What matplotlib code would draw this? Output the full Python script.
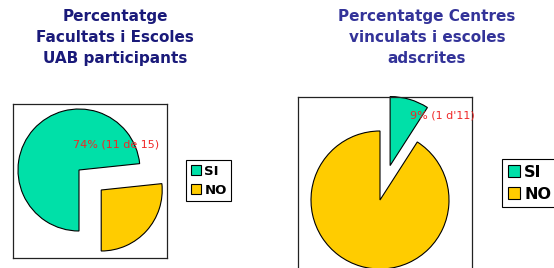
import matplotlib.pyplot as plt
from matplotlib.patches import Patch

plt.rcParams['font.family'] = ['DejaVu Sans']

# data
categories = ['SI', 'NO']
uab_counts = [11, 4]          # Facultats i Escoles UAB (11 de 15)
centres_counts = [1, 10]      # Centres vinculats (1 d'11)
uab_label = '74% (11 de 15)'
centres_label = "9% (1 d'11)"
colors = ['#00e0a8', '#ffcc00']

W, H = 554, 268
fig = plt.figure(figsize=(W / 100, H / 100), dpi=100)


def px_axes(x0, y0, x1, y1):
    # box given in pixel coords (top-left origin)
    return fig.add_axes([x0 / W, 1 - y1 / H, (x1 - x0) / W, (y1 - y0) / H])


def draw_pie(ax, vals, explode, start, cx, cy, r, box):
    x0, y0, x1, y1 = box
    ax.pie(vals, colors=colors, explode=explode, startangle=start,
           counterclock=False, frame=True,
           wedgeprops=dict(edgecolor='black', linewidth=0.8))
    ax.set_xlim((x0 - cx) / r, (x1 - cx) / r)
    ax.set_ylim((cy - y1) / r, (cy - y0) / r)
    ax.set_xticks([])
    ax.set_yticks([])
    for s in ax.spines.values():
        s.set_linewidth(0.9)
        s.set_color('#222222')


# left chart
box1 = (13, 104, 167, 258)
ax1 = px_axes(*box1)
draw_pie(ax1, uab_counts, [0, 0.49], 270, 79, 170, 61, box1)
ax1.text(0.61, 0.41, uab_label, color='#f02828', fontsize=8,
         ha='center', va='center')

# right chart
box2 = (298, 97, 472, 271)
ax2 = px_axes(*box2)
draw_pie(ax2, centres_counts, [0.52, 0], 90, 380, 200, 69, box2)
ax2.text(0.90, 1.23, centres_label, color='#f02828', fontsize=8,
         ha='center', va='center')

# titles
fig.text(115 / W, 1 - 9 / H, 'Percentatge\nFacultats i Escoles\nUAB participants',
         ha='center', va='top', fontsize=11, fontweight='bold',
         color='#1a1a7a', linespacing=1.52)
fig.text(427 / W, 1 - 9 / H, 'Percentatge Centres\nvinculats i escoles\nadscrites',
         ha='center', va='top', fontsize=11, fontweight='bold',
         color='#333399', linespacing=1.52)

# legends
handles = [Patch(facecolor=c, edgecolor='black', linewidth=0.8) for c in colors]
leg1 = fig.legend(handles, categories, loc='upper left',
                  bbox_to_anchor=(186 / W, 1 - 160 / H), borderaxespad=0,
                  fancybox=False, edgecolor='black', framealpha=1,
                  prop=dict(weight='bold', size=9.5), handlelength=0.75,
                  handleheight=0.75, handletextpad=0.3, labelspacing=0.45,
                  borderpad=0.35)
leg1.get_frame().set_linewidth(0.8)
leg2 = fig.legend(handles, categories, loc='upper left',
                  bbox_to_anchor=(502 / W, 1 - 159 / H), borderaxespad=0,
                  fancybox=False, edgecolor='black', framealpha=1,
                  prop=dict(weight='bold', size=11.5), handlelength=0.75,
                  handleheight=0.75, handletextpad=0.3, labelspacing=0.45,
                  borderpad=0.35)
leg2.get_frame().set_linewidth(0.8)

fig.savefig('out.png', dpi=100)
